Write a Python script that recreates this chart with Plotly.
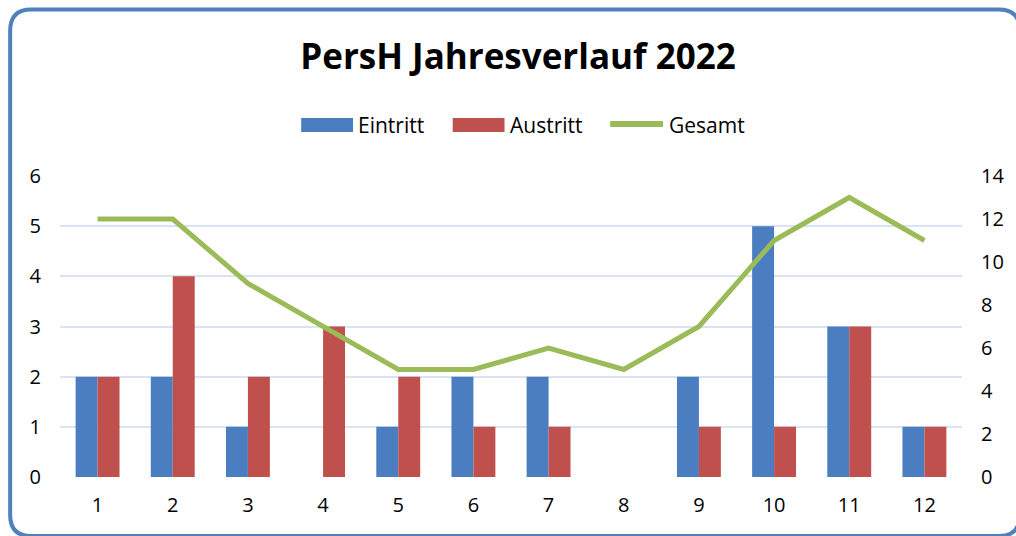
import plotly.graph_objects as go

months = ["1", "2", "3", "4", "5", "6", "7", "8", "9", "10", "11", "12"]
eintritt = [2, 2, 1, 0, 1, 2, 2, 0, 2, 5, 3, 1]
austritt = [2, 4, 2, 3, 2, 1, 1, 0, 1, 1, 3, 1]
gesamt = [12, 12, 9, 7, 5, 5, 6, 5, 7, 11, 13, 11]
series_names = ["Eintritt", "Austritt", "Gesamt"]
colors = ["#4A7EC0", "#C0504D", "#9BBB59"]

W, H = 1016, 536
L, R, T, B = 60, 51, 176, 59
PW, PH = W - L - R, H - T - B

FONT = "Open Sans, Liberation Sans, Arial, sans-serif"

fig = go.Figure()
fig.add_trace(go.Bar(x=months, y=eintritt, name=series_names[0],
                     marker=dict(color=colors[0], line=dict(width=0))))
fig.add_trace(go.Bar(x=months, y=austritt, name=series_names[1],
                     marker=dict(color=colors[1], line=dict(width=0))))
fig.add_trace(go.Scatter(x=months, y=gesamt, name=series_names[2], yaxis="y2",
                         mode="lines", line=dict(color=colors[2], width=5)))


def px(x):
    return (x - L) / PW


def py(y):
    return (H - B - y) / PH


x0, x1, y0, y1, r = 10, 1023, 9.5, 536, 21
path = (
    f"M {px(x0 + r)},{py(y0)} L {px(x1 - r)},{py(y0)} "
    f"Q {px(x1)},{py(y0)} {px(x1)},{py(y0 + r)} L {px(x1)},{py(y1 - r)} "
    f"Q {px(x1)},{py(y1)} {px(x1 - r)},{py(y1)} L {px(x0 + r)},{py(y1)} "
    f"Q {px(x0)},{py(y1)} {px(x0)},{py(y1 - r)} L {px(x0)},{py(y0 + r)} "
    f"Q {px(x0)},{py(y0)} {px(x0 + r)},{py(y0)} Z"
)

shapes = [dict(type="path", path=path, xref="paper", yref="paper",
               line=dict(color="#4F81BD", width=4), fillcolor="rgba(0,0,0,0)",
               layer="above")]
annotations = []

# manual legend (wide symbols as in the reference)
leg_y = 125
leg_items = [(302, 354, 359, "bar"), (454, 506, 511, "bar"), (610, 667, 671, "line")]
for (sx0, sx1, tx, kind), name, col in zip(leg_items, series_names, colors):
    if kind == "bar":
        shapes.append(dict(type="rect", xref="paper", yref="paper",
                           x0=px(sx0), x1=px(sx1), y0=py(leg_y + 7), y1=py(leg_y - 7),
                           fillcolor=col, line=dict(width=0)))
    else:
        shapes.append(dict(type="line", xref="paper", yref="paper",
                           x0=px(sx0 + 2), x1=px(sx1 - 2), y0=py(leg_y - 1), y1=py(leg_y - 1),
                           line=dict(color=col, width=6)))
    annotations.append(dict(text=name, xref="paper", yref="paper", x=px(tx), y=py(leg_y),
                            xanchor="left", yanchor="middle", showarrow=False,
                            font=dict(size=21, color="black"), xshift=-2))

fig.update_layout(
    width=W, height=H,
    margin=dict(l=L, r=R, t=T, b=B, pad=0),
    paper_bgcolor="white", plot_bgcolor="white",
    font=dict(family=FONT, size=20, color="black"),
    title=dict(text="<b>PersH Jahresverlauf 2022</b>", x=518 / W, xanchor="center",
               y=1 - 57 / H, yanchor="middle", font=dict(size=35, color="black")),
    barmode="group", bargap=0.416, bargroupgap=0,
    showlegend=False,
    xaxis=dict(type="category", showgrid=False, showline=False, ticks="",
               ticklabelstandoff=14, zeroline=False),
    yaxis=dict(range=[0, 6], dtick=1, showgrid=True, gridcolor="#D9E4F3", gridwidth=2,
               zeroline=False, showline=False, ticks="", ticklabelstandoff=18),
    yaxis2=dict(range=[0, 14], dtick=2, overlaying="y", side="right", showgrid=False,
                zeroline=False, showline=False, ticks="", ticklabelstandoff=18),
    shapes=shapes,
    annotations=annotations,
)

fig.write_html("out.html", config={"displayModeBar": False},
               post_script="document.body.style.margin='0';")
